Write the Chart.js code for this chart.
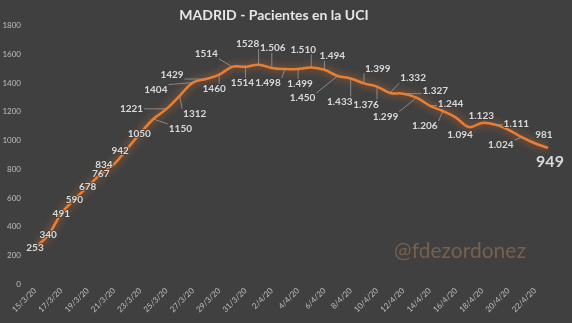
<!DOCTYPE html>
<html>
<head>
<meta charset="utf-8">
<script src="https://cdn.jsdelivr.net/npm/chart.js@4"></script>
<style>
  html, body { margin: 0; padding: 0; background: #404040; }
  #wrap { width: 572px; height: 323px; }
</style>
</head>
<body>
<div id="wrap"><canvas id="uciChart" width="572" height="323"></canvas></div>
<script>
const days = [
  '15/3/20', '16/3/20', '17/3/20', '18/3/20', '19/3/20', '20/3/20', '21/3/20', '22/3/20',
  '23/3/20', '24/3/20', '25/3/20', '26/3/20', '27/3/20', '28/3/20', '29/3/20', '30/3/20',
  '31/3/20', '1/4/20', '2/4/20', '3/4/20', '4/4/20', '5/4/20', '6/4/20', '7/4/20',
  '8/4/20', '9/4/20', '10/4/20', '11/4/20', '12/4/20', '13/4/20', '14/4/20', '15/4/20',
  '16/4/20', '17/4/20', '18/4/20', '19/4/20', '20/4/20', '21/4/20', '22/4/20', '23/4/20'
];

const icuPatients = [
  253, 340, 491, 590, 678, 767, 834, 942,
  1050, 1150, 1221, 1312, 1404, 1429, 1460, 1514,
  1514, 1528, 1506, 1498, 1499, 1510, 1494, 1450,
  1433, 1399, 1376, 1332, 1327, 1299, 1244, 1206,
  1160, 1094, 1123, 1111, 1075, 1024, 981, 949
];

// days whose value label was left off the chart
const unlabeled = [32, 36];

const yTicks = [0, 200, 400, 600, 800, 1000, 1200, 1400, 1600, 1800];

// label placement relative to its point: [dx, dy, leader line]
const labelPlacement = [
  [0, 0, false], [0, 0, false], [0, 0, false], [0, 0, false], [0, 0, false], [0, 0, false],
  [-10, 0, false], [-7, 2, false], [-1, 0, false], [27, 10, true], [-35, 0, true], [15, 18, true],
  [-37, 7, true], [-34, -4, true], [-5, 14, true], [-26, -13, true], [-3, 16, true], [-11, -21, true],
  [1, -20, true], [-17, 14, true], [2, 15, true], [-8, -18, true], [8, -14, true], [-35, 22, true],
  [-11, 23, true], [14, -15, true], [-11, 18, true], [23, -15, true], [32, -3, true], [-31, 19, true],
  [21, -2, true], [-18, 15, true], null, [-9, 8, false], [-1, -7, false], [21, -1, true],
  null, [-21, 8, true], [9, -8, false], [2, 14, false]
];

const FONT = 'Lato, "Open Sans", sans-serif';

function formatValue(v, i) {
  // from 2/4 onwards the figures were written with a thousands dot
  if (i < 18 || v < 1000) return String(v);
  const s = String(v);
  return s.slice(0, s.length - 3) + '.' + s.slice(-3);
}

const background = {
  id: 'background',
  beforeDraw(chart) {
    const ctx = chart.ctx;
    ctx.save();
    ctx.fillStyle = '#404040';
    ctx.fillRect(0, 0, chart.width, chart.height);
    ctx.restore();
  }
};

// soft orange halo around the line
const glow = {
  id: 'glow',
  beforeDatasetsDraw(chart) {
    const ctx = chart.ctx;
    ctx.save();
    ctx.shadowColor = 'rgba(237, 125, 49, 0.75)';
    ctx.shadowBlur = 9;
  },
  afterDatasetsDraw(chart) {
    chart.ctx.restore();
  }
};

const valueLabels = {
  id: 'valueLabels',
  afterDatasetsDraw(chart) {
    const ctx = chart.ctx;
    const pts = chart.getDatasetMeta(0).data;
    ctx.save();
    icuPatients.forEach((v, i) => {
      const place = labelPlacement[i];
      if (!place || unlabeled.includes(i)) return;
      const last = i === icuPatients.length - 1;
      const p = pts[i];
      const text = formatValue(v, i);
      ctx.font = (last ? 'bold 16px ' : 'bold 10px ') + FONT;
      const w = ctx.measureText(text).width;
      const h = last ? 13 : 8;
      const cx = p.x + place[0];
      const cy = p.y + place[1];

      if (place[2]) {
        const bx = Math.max(cx - w / 2 - 1, Math.min(p.x, cx + w / 2 + 1));
        const by = Math.max(cy - h / 2 - 1, Math.min(p.y, cy + h / 2 + 1));
        if (Math.hypot(bx - p.x, by - p.y) > 4) {
          ctx.strokeStyle = '#9a9a9a';
          ctx.lineWidth = 0.8;
          ctx.beginPath();
          ctx.moveTo(p.x, p.y);
          ctx.lineTo(bx, by);
          ctx.stroke();
        }
      }

      ctx.textAlign = 'center';
      ctx.textBaseline = 'middle';
      ctx.lineWidth = 2;
      ctx.strokeStyle = 'rgba(64, 64, 64, 0.8)';
      ctx.strokeText(text, cx, cy);
      ctx.fillStyle = '#d9d9d9';
      ctx.fillText(text, cx, cy);
    });
    ctx.restore();
  }
};

const watermark = {
  id: 'watermark',
  afterDraw(chart) {
    const ctx = chart.ctx;
    ctx.save();
    ctx.font = '21px ' + FONT;
    ctx.fillStyle = '#76604f';
    ctx.textAlign = 'center';
    ctx.textBaseline = 'middle';
    ctx.fillText('@fdezordonez', 460, 251);
    ctx.restore();
  }
};

const ctx = document.getElementById('uciChart').getContext('2d');

new Chart(ctx, {
  type: 'line',
  data: {
    labels: days,
    datasets: [{
      data: icuPatients,
      borderColor: '#ED7D31',
      borderWidth: 2.5,
      pointRadius: 0,
      tension: 0.4,
      fill: false
    }]
  },
  options: {
    responsive: false,
    animation: false,
    layout: { padding: { left: 0, right: 24, top: 0, bottom: 0 } },
    scales: {
      x: {
        offset: false,
        grid: { display: false, drawTicks: false },
        border: { display: false },
        ticks: {
          autoSkip: false,
          minRotation: 45,
          maxRotation: 45,
          padding: 2,
          color: '#bfbfbf',
          font: { family: FONT, size: 8 },
          callback: (val, i) => (i % 2 === 0 ? days[i] : '')
        },
        afterFit: (scale) => { scale.height = 39; }
      },
      y: {
        min: yTicks[0],
        max: yTicks[yTicks.length - 1],
        grid: { display: false, drawTicks: false },
        border: { display: false },
        afterBuildTicks: (scale) => { scale.ticks = yTicks.map(v => ({ value: v })); },
        ticks: {
          padding: 14,
          color: '#bfbfbf',
          font: { family: FONT, size: 8 },
          callback: (val) => String(val)
        },
        afterFit: (scale) => { scale.width = 35; }
      }
    },
    plugins: {
      legend: { display: false },
      tooltip: { enabled: false },
      title: {
        display: true,
        text: 'MADRID - Pacientes en la UCI',
        color: '#e6e6e6',
        font: { family: FONT, size: 14, weight: 'bold' },
        padding: { top: 7, bottom: 2 }
      }
    }
  },
  plugins: [background, glow, valueLabels, watermark]
});
</script>
</body>
</html>
